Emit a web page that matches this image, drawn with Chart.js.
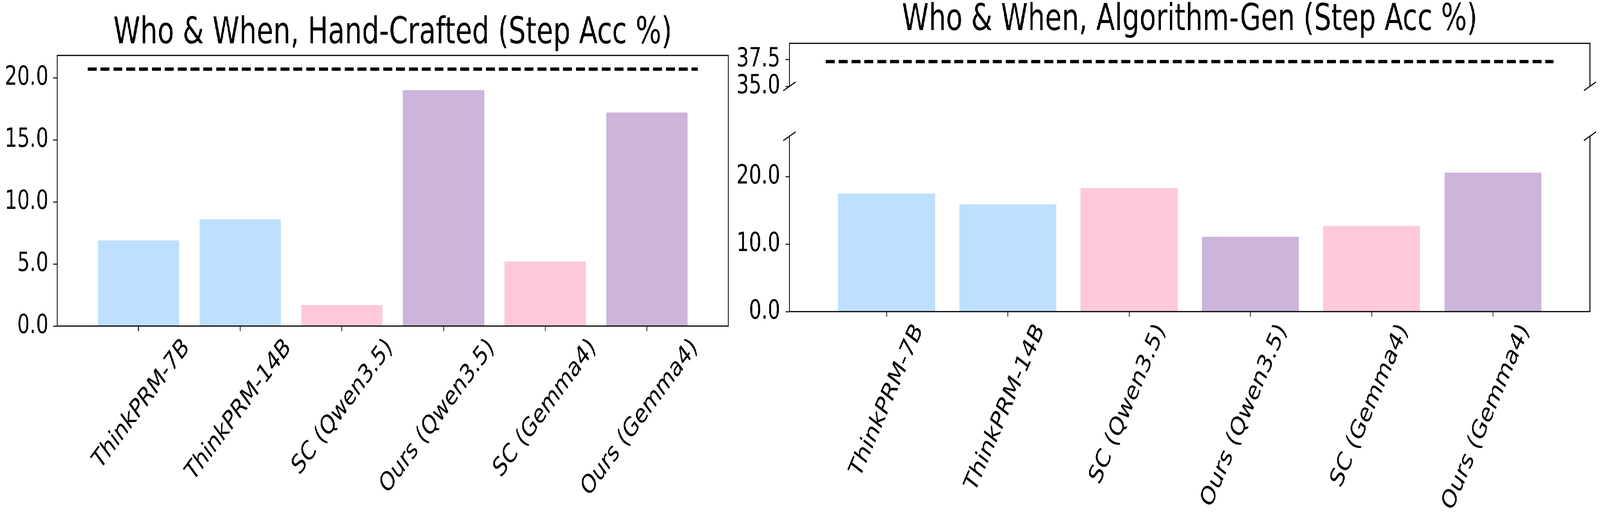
<!DOCTYPE html>
<html>
<head>
<meta charset="utf-8">
<script src="https://cdn.jsdelivr.net/npm/chart.js@4.4.1/dist/chart.umd.min.js"></script>
<style>
html, body { margin: 0; padding: 0; background: #fff; overflow: hidden; width: 100%; height: 100%; }
#wrap { position: absolute; left: 0; top: 0; width: 5541px; height: 1324px; background: #fff;
        overflow: hidden; transform-origin: 0 0; }
canvas { position: absolute; }
</style>
</head>
<body>
<div id="wrap">
  <canvas id="handChart" width="2620" height="1324" style="left:0;top:0"></canvas>
  <canvas id="algoTop" width="3001" height="280" style="left:2540px;top:0"></canvas>
  <canvas id="algoBottom" width="3001" height="1034" style="left:2540px;top:290px"></canvas>
</div>
<script>
// data
var methods = ['ThinkPRM-7B', 'ThinkPRM-14B', 'SC (Qwen3.5)', 'Ours (Qwen3.5)', 'SC (Gemma4)', 'Ours (Gemma4)'];
var barColors = ['#BDE0FE', '#BDE0FE', '#FFC8DD', '#CDB4DB', '#FFC8DD', '#CDB4DB'];
var handCrafted = [6.9, 8.6, 1.7, 19.0, 5.2, 17.2];
var handCraftedRef = 20.7;
var algorithmGen = [17.5, 15.9, 18.3, 11.1, 12.7, 20.6];
var algorithmGenRef = 37.3;
var handTicks = [0, 5, 10, 15, 20];
var algoLowTicks = [0, 10, 20];
var algoHighTicks = [35, 37.5];

// the page is laid out at 5541x1324 and scaled to whatever the viewport is
var wrap = document.getElementById('wrap');
wrap.style.transform = 'scale(' + (window.innerWidth / 5541) + ',' + (window.innerHeight / 1324) + ')';

Chart.defaults.font.family = "'DejaVu Sans', sans-serif";
Chart.defaults.color = '#000';

function barPoints(values) {
    return values.map(function (v, i) { return { x: i, y: v }; });
}
function refPoints(v) {
    return [{ x: -0.5, y: v }, { x: methods.length - 0.5, y: v }];
}

// matplotlib style box + broken axis marks
var frame = {
    id: 'frame',
    afterDraw: function (chart, args, opts) {
        var a = chart.chartArea, ctx = chart.ctx;
        ctx.save();
        ctx.strokeStyle = '#000';
        ctx.lineWidth = 3;
        ctx.beginPath();
        if (opts.mode === 'box') {
            ctx.rect(a.left, a.top, a.right - a.left, a.bottom - a.top);
        } else if (opts.mode === 'openBottom') {
            ctx.moveTo(a.left, a.bottom);
            ctx.lineTo(a.left, a.top);
            ctx.lineTo(a.right, a.top);
            ctx.lineTo(a.right, a.bottom);
        } else {
            ctx.moveTo(a.left, a.top);
            ctx.lineTo(a.left, a.bottom);
            ctx.lineTo(a.right, a.bottom);
            ctx.lineTo(a.right, a.top);
        }
        ctx.stroke();
        if (opts.mode !== 'box') {
            var y = opts.mode === 'openBottom' ? a.bottom : a.top;
            ctx.beginPath();
            [a.left, a.right].forEach(function (x) {
                ctx.moveTo(x - 21, y + 11);
                ctx.lineTo(x + 21, y - 11);
            });
            ctx.stroke();
        }
        ctx.restore();
    }
};

function xAxis(show, rotation, offset, pad, height) {
    return {
        type: 'linear',
        display: show,
        offset: false,
        min: -0.8,
        max: 5.8,
        afterBuildTicks: function (s) {
            s.ticks = methods.map(function (m, i) { return { value: i }; });
        },
        afterFit: function (s) { if (height) s.height = height; },
        ticks: {
            autoSkip: false,
            minRotation: rotation,
            maxRotation: rotation,
            labelOffset: offset,
            padding: pad,
            font: { size: 67 },
            callback: function (v) { return methods[v]; }
        },
        grid: { offset: false, drawOnChartArea: false, tickLength: 13, tickWidth: 2.5, tickColor: '#000' },
        border: { display: false }
    };
}

function yAxis(min, max, tickValues, width, pad) {
    return {
        min: min,
        max: max,
        afterBuildTicks: function (s) {
            s.ticks = tickValues.map(function (t) { return { value: t }; });
        },
        afterFit: function (s) { s.width = width; },
        ticks: {
            padding: pad,
            font: { size: 68 },
            callback: function (v) { return v.toFixed(1); }
        },
        grid: { drawOnChartArea: false, tickLength: 14, tickWidth: 2.5, tickColor: '#000' },
        border: { display: false }
    };
}

function title(text, top, bottom) {
    return {
        display: true,
        text: text,
        fullSize: false,
        color: '#000',
        font: { size: 94, weight: 'normal', lineHeight: 1 },
        padding: { top: top, bottom: bottom }
    };
}

function barSet(values) {
    return {
        type: 'bar',
        data: barPoints(values),
        backgroundColor: barColors,
        borderWidth: 0,
        barPercentage: 0.8,
        categoryPercentage: 1.0,
        order: 2
    };
}
function refSet(v) {
    return {
        type: 'line',
        data: refPoints(v),
        borderColor: '#000',
        borderWidth: 8.5,
        borderDash: [31, 13.5],
        borderCapStyle: 'butt',
        pointRadius: 0,
        fill: false,
        order: 1
    };
}

var common = {
    responsive: false,
    animation: false,
    devicePixelRatio: 1,
    events: []
};

new Chart(document.getElementById('handChart'), {
    type: 'bar',
    data: { datasets: [barSet(handCrafted), refSet(handCraftedRef)] },
    plugins: [frame],
    options: Object.assign({}, common, {
        layout: { padding: { left: 0, right: 98, top: 0, bottom: 0 } },
        scales: {
            x: xAxis(true, 45, 166, 4, 489),
            y: yAxis(0, 21.8, handTicks, 198, 16)
        },
        plugins: {
            legend: { display: false },
            tooltip: { enabled: false },
            title: title('Who & When, Hand-Crafted (Step Acc %)', 40, 8),
            frame: { mode: 'box' }
        }
    })
});

new Chart(document.getElementById('algoTop'), {
    type: 'bar',
    data: { datasets: [refSet(algorithmGenRef)] },
    plugins: [frame],
    options: Object.assign({}, common, {
        layout: { padding: { left: 0, right: 35, top: 0, bottom: 54 } },
        scales: {
            x: xAxis(false, 60, 112, 5, 0),
            y: yAxis(35, 39, algoHighTicks, 194, 18)
        },
        plugins: {
            legend: { display: false },
            tooltip: { enabled: false },
            title: title('Who & When, Algorithm-Gen (Step Acc %)', 6, 11),
            frame: { mode: 'openBottom' }
        }
    })
});

new Chart(document.getElementById('algoBottom'), {
    type: 'bar',
    data: { datasets: [barSet(algorithmGen)] },
    plugins: [frame],
    options: Object.assign({}, common, {
        layout: { padding: { left: 0, right: 35, top: 50, bottom: 0 } },
        scales: {
            x: xAxis(true, 60, 112, 5, 526),
            y: yAxis(0, 26, algoLowTicks, 194, 18)
        },
        plugins: {
            legend: { display: false },
            tooltip: { enabled: false },
            title: { display: false },
            frame: { mode: 'openTop' }
        }
    })
});
</script>
</body>
</html>
